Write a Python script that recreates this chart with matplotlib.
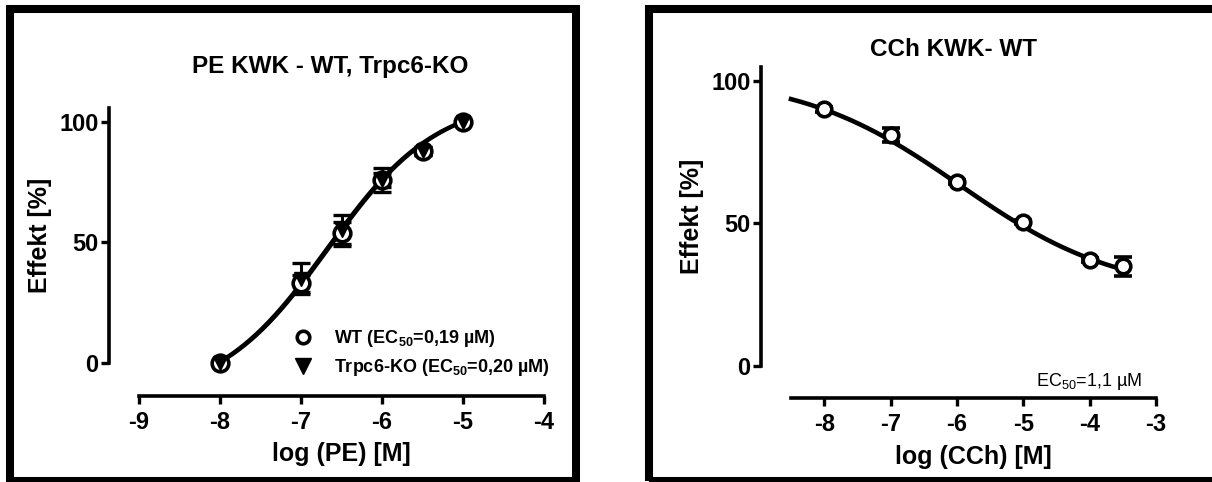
import numpy as np
import matplotlib.pyplot as plt
from matplotlib.patches import Rectangle
from matplotlib.lines import Line2D

plt.rcParams['font.family'] = ['Liberation Sans', 'DejaVu Sans']
plt.rcParams['font.weight'] = 'bold'
plt.rcParams['axes.labelweight'] = 'bold'
plt.rcParams['axes.unicode_minus'] = False
plt.rcParams['mathtext.fontset'] = 'custom'
plt.rcParams['mathtext.rm'] = 'Liberation Sans:weight=normal'
plt.rcParams['mathtext.bf'] = 'Liberation Sans:weight=bold'

# --- left panel: PE, WT vs Trpc6-KO
pe_x = [-8, -7, -6.5, -6, -5.5, -5]
wt_y = [0, 33, 54, 76, 88, 100]
wt_err = [1, 3.5, 4.5, 3, 1.5, 1]
ko_y = [0, 35, 55, 76, 88, 100]
ko_err = [1, 6.5, 6.5, 5, 1.5, 1]
# Hill fit params: bottom, top, logEC50, slope
wt_fit = [-15, 110, -6.68, 0.64]
ko_fit = [-15, 110, -6.66, 0.64]
pe_xticks = [-9, -8, -7, -6, -5, -4]

# --- right panel: CCh, WT
cch_x = [-8, -7, -6, -5, -4, -3.5]
cch_y = [90, 81, 64.6, 50.5, 37.2, 35]
cch_err = [0.8, 2.5, 0.8, 0.8, 0.8, 3.3]
cch_fit = [25, 102, -5.96, 0.36]
cch_xticks = [-8, -7, -6, -5, -4, -3]
yticks = [0, 50, 100]


def hill_up(x, p):
    b, t, c, n = p
    return b + (t - b) / (1 + 10 ** ((c - x) * n))


def hill_down(x, p):
    b, t, c, n = p
    return b + (t - b) / (1 + 10 ** ((x - c) * n))


W, H = 1212, 482
fig = plt.figure(figsize=(W / 100, H / 100), dpi=100)


def px_axes(x0, x1, ytop, ybot):
    return fig.add_axes([x0 / W, (H - ybot) / H, (x1 - x0) / W, (ybot - ytop) / H])


def style(ax, yoff, xoff):
    for s in ['top', 'right']:
        ax.spines[s].set_visible(False)
    ax.spines['left'].set_position(('outward', yoff * 0.72))
    ax.spines['bottom'].set_position(('outward', xoff * 0.72))
    for s in ['left', 'bottom']:
        ax.spines[s].set_linewidth(2.6)
    ax.tick_params(axis='both', width=2.4, length=6, labelsize=17, pad=4.5)
    ax.tick_params(axis='y', pad=1.5)
    ax.set_yticks(yticks)
    ax.patch.set_alpha(0)


# left
ax1 = px_axes(139, 544, 108, 363)
ax1.set_xlim(-9, -4)
ax1.set_ylim(0, 105.8)
style(ax1, 30, 33)
ax1.set_xticks(pe_xticks)
xs = np.linspace(-8, -5, 200)
ax1.plot(xs, hill_up(xs, wt_fit), color='black', lw=2.7, zorder=2, clip_on=False)
ax1.plot(xs, hill_up(xs, ko_fit), color='black', lw=2.7, zorder=2, clip_on=False)
ax1.errorbar(pe_x, wt_y, yerr=wt_err, fmt='none', ecolor='black', elinewidth=2.2,
             capsize=6.5, capthick=2.4, zorder=3, clip_on=False)
ax1.errorbar(pe_x, ko_y, yerr=ko_err, fmt='none', ecolor='black', elinewidth=2.2,
             capsize=6.5, capthick=2.4, zorder=3, clip_on=False)
ax1.plot(pe_x, wt_y, 'o', ms=12, mfc='white', mec='black', mew=2.6, zorder=4, clip_on=False)
ax1.plot(pe_x, ko_y, 'v', ms=10.5, mfc='black', mec='black', zorder=5, clip_on=False)
ax1.set_xlabel('log (PE) [M]', fontsize=18, labelpad=6)
ax1.set_ylabel('Effekt [%]', fontsize=18, labelpad=5)
fig.text(330 / W, 1 - 67 / H, 'PE KWK - WT, Trpc6-KO', fontsize=17.5, ha='center', va='center')

handles = [Line2D([], [], ls='none', marker='o', ms=9, mfc='white', mec='black', mew=2.6),
           Line2D([], [], ls='none', marker='v', ms=11, mfc='black', mec='black')]
labels = [r'WT (EC$_{\mathbf{50}}$=0,19 µM)', r'Trpc6-KO (EC$_{\mathbf{50}}$=0,20 µM)']
ax1.legend(handles, labels, loc='center left', bbox_to_anchor=(294 / W, 1 - 353 / H),
           bbox_transform=fig.transFigure, frameon=False, fontsize=13,
           handlelength=1.0, handletextpad=1.2, labelspacing=0.45, borderpad=0,
           borderaxespad=0)

# right
ax2 = px_axes(791, 1156, 67, 366)
ax2.set_xlim(-8.5, -3)
ax2.set_ylim(0, 104.9)
style(ax2, 30, 32)
ax2.set_xticks(cch_xticks)
xs2 = np.linspace(-8.5, -3.5, 200)
ax2.plot(xs2, hill_down(xs2, cch_fit), color='black', lw=3.3, zorder=2, clip_on=False)
ax2.errorbar(cch_x, cch_y, yerr=cch_err, fmt='none', ecolor='black', elinewidth=2.4,
             capsize=6.5, capthick=2.6, zorder=3, clip_on=False)
ax2.plot(cch_x, cch_y, 'o', ms=10.5, mfc='white', mec='black', mew=2.6, zorder=4, clip_on=False)
ax2.set_xlabel('log (CCh) [M]', fontsize=18, labelpad=7)
ax2.set_ylabel('Effekt [%]', fontsize=18, labelpad=5)
fig.text(954 / W, 1 - 50 / H, 'CCh KWK- WT', fontsize=17.5, ha='center', va='center')
fig.text(1142 / W, 1 - 382 / H, r'EC$_{50}$=1,1 µM', fontsize=13, fontweight='normal',
         ha='right', va='center')

# panel frames
fig.add_artist(Rectangle((10 / W, 1 / H), 566 / W, 472 / H, transform=fig.transFigure,
                         fill=False, lw=5.8, ec='black'))
fig.add_artist(Rectangle((649 / W, 1 / H), 567 / W, 472 / H, transform=fig.transFigure,
                         fill=False, lw=5.8, ec='black'))

fig.savefig('out.png', dpi=100)
